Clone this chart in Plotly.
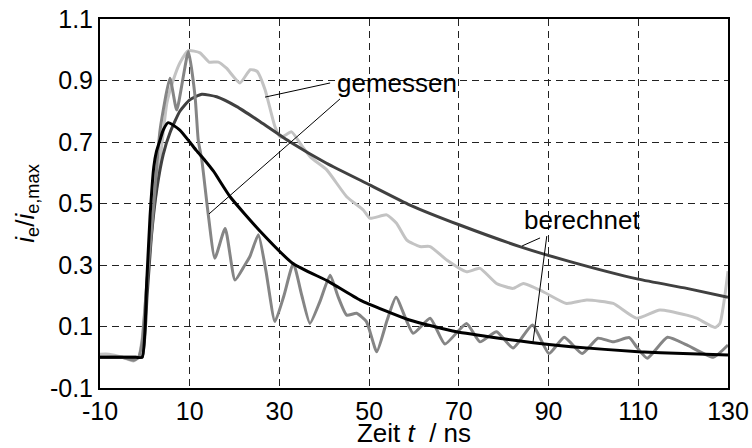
import plotly.graph_objects as go

# ---- time axis ticks (ns) and normalised current ticks ----
x_ticks = [-10, 10, 30, 50, 70, 90, 110, 130]
x_tick_labels = ["-10", "10", "30", "50", "70", "90", "110", "130"]
y_ticks = [-0.1, 0.1, 0.3, 0.5, 0.7, 0.9, 1.1]
y_tick_labels = ["-0.1", "0.1", "0.3", "0.5", "0.7", "0.9", "1.1"]

# ---- measured, long pulse (light gray) ----
t_meas_long = [-10, -8, -5, -2.6, -1.4, -0.6, 0.5, 2.0, 3.4, 4.9, 6.3, 7.8, 9.7, 12.3, 14.3,
               16.4, 18.2, 21.2, 23.5, 25.0, 26.8, 29.0, 30.3, 32.7, 34.6, 37.0, 40.5,
               45.0, 48.7, 50.2, 53.9, 56.1, 58.4, 61.3, 63.6, 67.3, 71.7, 74.7, 78.4,
               82.1, 84.4, 88.8, 94.0, 98.5, 104.4, 109.6, 114.8, 120.8, 123.0, 127.1,
               128.2, 129.3, 130]
i_meas_long = [0.01, 0.01, 0.0, -0.012, 0.0, 0.06, 0.25, 0.48, 0.64, 0.826, 0.90, 0.957, 0.997,
               0.99, 0.96, 0.96, 0.94, 0.892, 0.935, 0.93, 0.87, 0.75, 0.715, 0.733, 0.696,
               0.65, 0.61, 0.522, 0.479, 0.452, 0.463, 0.436, 0.381, 0.36, 0.36, 0.316,
               0.278, 0.289, 0.24, 0.224, 0.24, 0.213, 0.175, 0.186, 0.175, 0.127, 0.154,
               0.137, 0.127, 0.097, 0.11, 0.2, 0.28]

# ---- calculated, long pulse (dark gray) ----
t_calc_long = [-10, -2.0, -0.6, 0.5, 1.5, 2.7, 4.1, 5.6, 7.8, 10.0, 12.7, 16.0, 20.5, 25.7, 32.4,
               40.5, 50.2, 59.1, 70.2, 83.6, 94.8, 110.0, 120.8, 130]
i_calc_long = [0.0, 0.0, 0.0, 0.2, 0.4, 0.55, 0.66, 0.73, 0.80, 0.837, 0.855, 0.847, 0.815, 0.766,
               0.70, 0.631, 0.56, 0.495, 0.43, 0.36, 0.311, 0.254, 0.224, 0.195]

# ---- measured, short pulse (medium gray) ----
t_meas_short = [-10, -5, -2.6, -1.4, -0.6, 0.5, 2.0, 3.4, 5.6, 7.1, 9.7, 11.2, 11.9, 12.7, 14.1,
                15.6, 17.9, 20.1, 22.3, 23.4, 25.3, 27.0, 29.0, 31.0, 33.1, 35.0, 36.8,
                39.0, 41.3, 43.0, 45.0, 47.2, 49.4, 51.7, 54.0, 56.0, 59.8, 63.6, 66.9,
                71.7, 74.7, 78.4, 82.1, 86.4, 90.1, 93.5, 97.5, 101.0, 104.4, 108.0,
                109.6, 112.0, 116.5, 120.8, 126.7, 130]
i_meas_short = [0.0, 0.0, -0.01, 0.0, 0.05, 0.25, 0.5, 0.74, 0.907, 0.804, 0.994, 0.847, 0.706,
                0.641, 0.468, 0.322, 0.419, 0.251, 0.30, 0.327, 0.398, 0.28, 0.116, 0.2,
                0.305, 0.2, 0.11, 0.18, 0.267, 0.2, 0.137, 0.143, 0.116, 0.018, 0.12,
                0.195, 0.078, 0.127, 0.043, 0.11, 0.05, 0.083, 0.03, 0.105, 0.012, 0.065,
                0.012, 0.062, 0.05, 0.064, 0.034, -0.003, 0.065, 0.04, 0.0, 0.04]

# ---- calculated, short pulse (black) ----
t_calc_short = [-10, -2.0, -0.6, 0.4, 1.15, 2.0, 2.6, 3.4, 4.1, 5.2, 7.8, 10.0, 11.5, 13.4,
                15.3, 19.0, 25.7, 33.0, 41.0, 48.0, 59.0, 69.5, 80.0, 86.6, 95.0, 110.0,
                120.0, 130]
i_calc_short = [0.0, 0.0, 0.0, 0.24, 0.457, 0.62, 0.67, 0.707, 0.739, 0.763, 0.739, 0.70,
                0.672, 0.64, 0.605, 0.522, 0.41, 0.305, 0.246, 0.186, 0.121, 0.083, 0.06,
                0.047, 0.034, 0.018, 0.012, 0.007]

FONT = "Liberation Sans, Arial, sans-serif"

fig = go.Figure()

curves = [
    (t_meas_long, i_meas_long, "#c3c3c3"),
    (t_calc_long, i_calc_long, "#404040"),
    (t_meas_short, i_meas_short, "#858585"),
    (t_calc_short, i_calc_short, "#000000"),
]
for t, i, c in curves:
    fig.add_trace(go.Scatter(
        x=t, y=i, mode="lines",
        line=dict(color=c, width=3, shape="spline", smoothing=0.5),
        showlegend=False, hoverinfo="skip",
    ))

# leader lines from the labels to the curves
leaders = [
    (41.3, 0.892, 26.8, 0.846),   # gemessen -> light gray
    (43.5, 0.840, 14.3, 0.466),   # gemessen -> medium gray
    (88.1, 0.388, 84.1, 0.362),   # berechnet -> dark gray
    (89.6, 0.394, 86.5, 0.046),   # berechnet -> black
]
for x0, y0, x1, y1 in leaders:
    fig.add_shape(type="line", xref="x", yref="y", x0=x0, y0=y0, x1=x1, y1=y1,
                  line=dict(color="black", width=1))

fig.add_annotation(x=56.2, y=0.892, xref="x", yref="y", text="gemessen",
                   showarrow=False, font=dict(family=FONT, size=26, color="black"),
                   xanchor="center", yanchor="middle")
fig.add_annotation(x=97.4, y=0.446, xref="x", yref="y", text="berechnet",
                   showarrow=False, font=dict(family=FONT, size=26, color="black"),
                   xanchor="center", yanchor="middle")

axis_common = dict(
    showline=True, mirror=True, linecolor="black", linewidth=2,
    showgrid=True, gridcolor="#222222", gridwidth=1, griddash="7px,5px",
    zeroline=False, ticks="", automargin=False,
    tickfont=dict(family=FONT, size=25, color="black"),
)

fig.update_xaxes(
    range=[-10, 130], tickmode="array", tickvals=x_ticks, ticktext=x_tick_labels,
    title=dict(text="Zeit <i>t</i> \u00a0/ ns", font=dict(family=FONT, size=26, color="black"),
               standoff=4),
    **axis_common,
)
fig.update_yaxes(
    range=[-0.1, 1.1], tickmode="array", tickvals=y_ticks, ticktext=y_tick_labels,
    title=dict(text="<i>i</i><sub>e</sub>/<i>i</i><sub>e,max</sub>",
               font=dict(family=FONT, size=26, color="black"), standoff=8),
    **axis_common,
)

fig.update_layout(
    width=752, height=448,
    margin=dict(l=100, r=24, t=19, b=60),
    paper_bgcolor="white", plot_bgcolor="white",
    font=dict(family=FONT, color="black"),
)

fig.write_html("out.html")
